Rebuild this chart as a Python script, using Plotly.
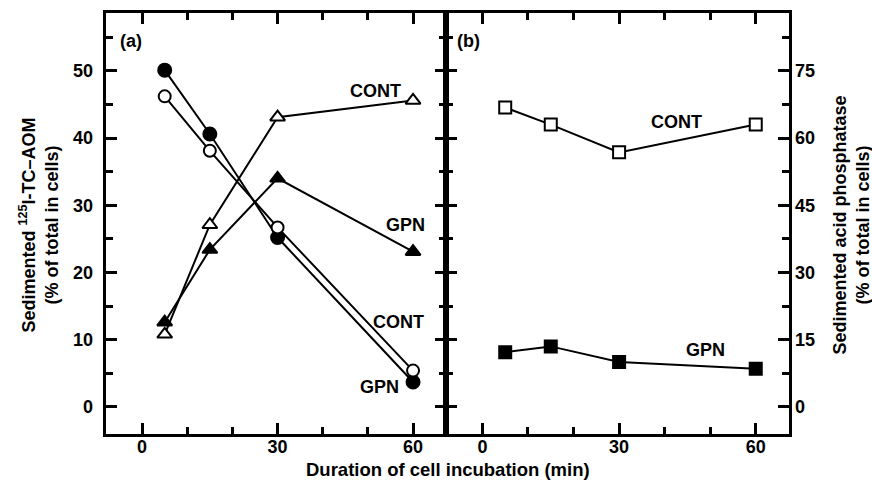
import plotly.graph_objects as go

# ---- data ----
time_a = [5, 15, 30, 60]
aom_cont = [46.2, 38.1, 26.7, 5.4]      # open circles
aom_gpn = [50.1, 40.6, 25.2, 3.7]       # filled circles
tri_cont = [10.8, 27.1, 43.1, 45.6]     # open triangles
tri_gpn = [12.6, 23.4, 34.0, 23.1]      # filled triangles

time_b = [5, 15, 30, 60]
acp_cont = [66.8, 63.0, 56.8, 63.0]     # open squares
acp_gpn = [12.2, 13.5, 10.0, 8.5]       # filled squares

x_ticks = [0, 30, 60]                               # labelled
x_all_ticks = [0, 10, 20, 30, 40, 50, 60]           # all tick marks
ya_ticks = [0, 10, 20, 30, 40, 50]
ya_all_ticks = [0, 5, 10, 15, 20, 25, 30, 35, 40, 45, 50, 55]
yb_ticks = [0, 15, 30, 45, 60, 75]
yb_all_ticks = [0, 7.5, 15, 22.5, 30, 37.5, 45, 52.5, 60, 67.5, 75, 82.5]

FONT = "Liberation Sans, Arial, sans-serif"
FS = 18
LW = 2
MS = 12

XR = [-8, 67.3]
YAR = [-4.03, 58.6]
YBR = [-6.05, 87.9]

fig = go.Figure()

def add(x, y, sym, filled, xa, ya, size=MS):
    fig.add_trace(go.Scatter(
        x=x, y=y, mode="lines+markers", xaxis=xa, yaxis=ya,
        line=dict(color="black", width=LW),
        marker=dict(symbol=sym, size=size,
                    color="black" if filled else "white",
                    line=dict(color="black", width=2)),
        showlegend=False, hoverinfo="skip"))

add(time_a, tri_cont, "triangle-up", False, "x", "y", 13)
add(time_a, tri_gpn, "triangle-up", True, "x", "y", 13)
add(time_a, aom_gpn, "circle", True, "x", "y", 13)
add(time_a, aom_cont, "circle", False, "x", "y")
add(time_b, acp_cont, "square", False, "x2", "y2")
add(time_b, acp_gpn, "square", True, "x2", "y2")

# empty traces so the overlay axes (long labelled ticks) are drawn
for xa, ya in [("x3", "y3"), ("x4", "y4")]:
    fig.add_trace(go.Scatter(x=[], y=[], xaxis=xa, yaxis=ya, mode="markers",
                             showlegend=False, hoverinfo="skip"))

tfont = dict(size=FS, family=FONT, color="black", weight="bold")

def axis(rng, all_t, **kw):
    return dict(range=rng, tickmode="array", tickvals=all_t, showticklabels=False,
                ticks="inside", ticklen=7, tickwidth=3, tickcolor="black",
                showline=True, linewidth=2.5, linecolor="black", mirror="allticks",
                showgrid=False, zeroline=False, **kw)

def overlay(rng, lab_t, **kw):
    return dict(range=rng, tickmode="array", tickvals=lab_t,
                ticktext=[f"{v:g}" for v in lab_t], ticks="inside", ticklen=11,
                tickwidth=3, tickcolor="black", showline=False, mirror="allticks",
                showticklabels=True, tickfont=tfont, showgrid=False, zeroline=False, **kw)

split = 0.4978
fig.update_layout(
    width=872, height=482,
    margin=dict(l=106, r=83, t=10, b=48),
    paper_bgcolor="white", plot_bgcolor="white",
    font=dict(family=FONT, size=FS, color="black", weight="bold"),
    xaxis=axis(XR, x_all_ticks, domain=[0, split], anchor="y"),
    xaxis2=axis(XR, x_all_ticks, domain=[split, 1], anchor="y2"),
    yaxis=axis(YAR, ya_all_ticks, anchor="x"),
    yaxis2=axis(YBR, yb_all_ticks, anchor="x2", side="right"),
    xaxis3=overlay(XR, x_ticks, domain=[0, split], anchor="y3", overlaying="x"),
    yaxis3=overlay(YAR, ya_ticks, anchor="x3", overlaying="y", ticklabelstandoff=12),
    xaxis4=overlay(XR, x_ticks, domain=[split, 1], anchor="y4", overlaying="x2"),
    yaxis4=overlay(YBR, yb_ticks, anchor="x4", overlaying="y2", side="right",
                   ticklabelstandoff=5),
)

def lab(text, x, y, xr, yr):
    fig.add_annotation(text=text, x=x, y=y, xref=xr, yref=yr, showarrow=False,
                       font=tfont, xanchor="center", yanchor="middle")

lab("(a)", -2.4, 54.5, "x", "y")
lab("CONT", 51.7, 47.0, "x", "y")
lab("GPN", 58.4, 27.1, "x", "y")
lab("CONT", 56.8, 12.7, "x", "y")
lab("GPN", 52.6, 2.9, "x", "y")
lab("(b)", -3.0, 81.7, "x2", "y2")
lab("CONT", 42.6, 63.6, "x2", "y2")
lab("GPN", 49.0, 12.6, "x2", "y2")

fig.add_annotation(text="Duration of cell incubation (min)", x=(448 - 106) / 683,
                   y=(434 - 470) / 424, xref="paper", yref="paper", showarrow=False,
                   xanchor="center", yanchor="middle",
                   font=dict(size=18.5, family=FONT, color="black", weight="bold"))
fig.add_annotation(text="Sedimented <sup>125</sup>I-TC–AOM<br>(% of total in cells)",
                   x=(40 - 106) / 683, y=(434 - 224) / 424, xref="paper", yref="paper",
                   showarrow=False, textangle=-90, xanchor="center", yanchor="middle",
                   font=tfont)
fig.add_annotation(text="Sedimented acid phosphatase<br>(% of total in cells)",
                   x=(851 - 106) / 683, y=(434 - 224) / 424, xref="paper", yref="paper",
                   showarrow=False, textangle=-90, xanchor="center", yanchor="middle",
                   font=tfont)

fig.write_html("out.html", config={"displayModeBar": False},
               post_script="document.body.style.margin='0';document.body.style.overflow='hidden';")
